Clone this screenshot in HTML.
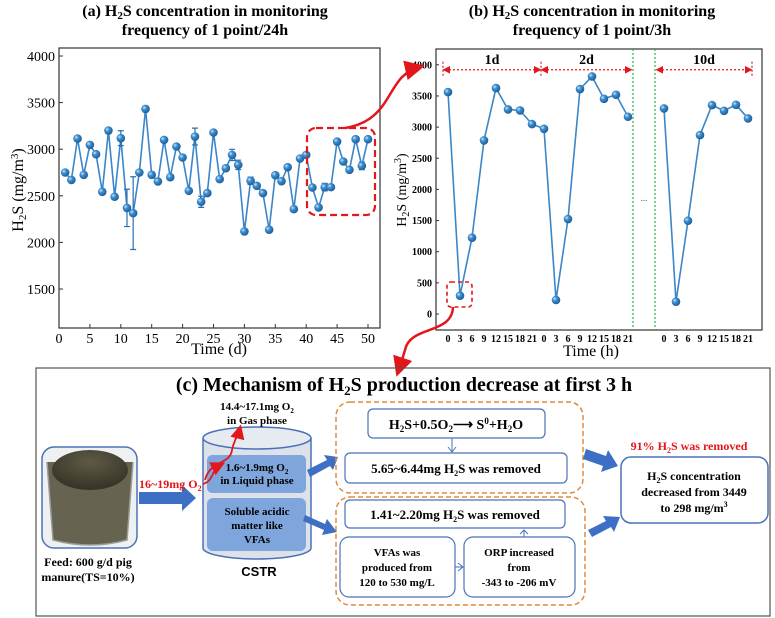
<!DOCTYPE html>
<html><head><meta charset="utf-8">
<style>
html,body{margin:0;padding:0;background:#fff;}
svg{display:block;font-family:"Liberation Serif",serif;}
</style></head>
<body>
<svg id="fig" width="775" height="618" viewBox="0 0 775 618" xmlns="http://www.w3.org/2000/svg">
<defs>
<radialGradient id="ball" cx="0.35" cy="0.35" r="0.7">
<stop offset="0" stop-color="#cfe6fa"/><stop offset="0.35" stop-color="#3d8fd0"/><stop offset="1" stop-color="#1a5a94"/>
</radialGradient>
<marker id="redhead" markerWidth="8" markerHeight="8" refX="6" refY="4" orient="auto"><path d="M0,0 L8,4 L0,8 z" fill="#e3161b"/></marker>
<marker id="dhead" markerWidth="8" markerHeight="8" refX="4" refY="4" orient="auto-start-reverse"><path d="M0,1 L6,4 L0,7 z" fill="#e3161b"/></marker>
<radialGradient id="manure" cx="0.5" cy="0.3" r="0.8"><stop offset="0" stop-color="#5e5a45"/><stop offset="1" stop-color="#2f2d22"/></radialGradient>
</defs>

<!-- titles -->
<g font-weight="bold" font-size="16" text-anchor="middle">
<text x="205" y="16">(a) H<tspan font-size="11" dy="3">2</tspan><tspan dy="-3">S concentration in monitoring</tspan></text>
<text x="205" y="35">frequency of 1 point/24h</text>
</g>
<g font-weight="bold" font-size="16" text-anchor="middle">
<text x="592" y="16">(b) H<tspan font-size="11" dy="3">2</tspan><tspan dy="-3">S concentration in monitoring</tspan></text>
<text x="592" y="35">frequency of 1 point/3h</text>
</g>

<g id="chartA"></g>
<g id="chartB"></g>

<!-- connecting arrows -->
<path d="M345,128 C395,120 385,75 420,67" fill="none" stroke="#e3161b" stroke-width="2.5" marker-end="url(#redhead)"/>
<path d="M453,307 C452,335 410,325 405,350 C402,360 400,366 398,372" fill="none" stroke="#e3161b" stroke-width="2.5" marker-end="url(#redhead)"/>

<!-- panel c -->
<g>
<rect x="36" y="368" width="734" height="248" fill="none" stroke="#555" stroke-width="1.2"/>
<text x="404" y="391" font-size="20" font-weight="bold" text-anchor="middle">(c) Mechanism of H<tspan font-size="13" dy="4">2</tspan><tspan dy="-4">S production decrease at first 3 h</tspan></text>

<g>
<rect x="42" y="447" width="95" height="101" rx="12" fill="#eef0f2" stroke="#4a72b8" stroke-width="1.5"/>
<path d="M47,462 L53,540 Q90,550 127,540 L133,462 Z" fill="#56533f" opacity="0.9"/>
<ellipse cx="90" cy="470" rx="38" ry="20" fill="url(#manure)"/>
<path d="M47,462 L53,540 Q90,550 127,540 L133,462" fill="none" stroke="#9a9c98" stroke-width="1.5"/>
</g>
<text x="88" y="566" font-size="12" font-weight="bold" text-anchor="middle">Feed: 600 g/d pig</text>
<text x="88" y="581" font-size="12" font-weight="bold" text-anchor="middle">manure(TS=10%)</text>

<path d="M139,492 L182,492 L182,485 L196,498 L182,511 L182,504 L139,504 Z" fill="#3d6fc4"/>
<text x="139" y="488" font-size="12" font-weight="bold" fill="#e3161b">16~19mg O<tspan font-size="8" dy="3">2</tspan></text>

<g>
<path d="M203,438 L203,548 A54,11 0 0 0 311,548 L311,438" fill="#dde2ea" stroke="#4a72b8" stroke-width="1.5"/>
<ellipse cx="257" cy="438" rx="54" ry="11" fill="#e6eaf1" stroke="#4a72b8" stroke-width="1.5"/>
<rect x="207" y="455" width="99" height="38" rx="5" fill="#7ea6dc"/>
<rect x="207" y="498" width="99" height="53" rx="6" fill="#7ea6dc"/>
</g>
<text x="257" y="471" font-size="11" font-weight="bold" text-anchor="middle">1.6~1.9mg O<tspan font-size="7" dy="3">2</tspan></text>
<text x="257" y="484" font-size="11" font-weight="bold" text-anchor="middle">in Liquid phase</text>
<text x="257" y="515" font-size="11" font-weight="bold" text-anchor="middle">Soluble acidic</text>
<text x="257" y="529" font-size="11" font-weight="bold" text-anchor="middle">matter like</text>
<text x="257" y="543" font-size="11" font-weight="bold" text-anchor="middle">VFAs</text>
<text x="259" y="576" font-size="13" font-weight="bold" text-anchor="middle" font-family="Liberation Sans, sans-serif">CSTR</text>
<text x="257" y="410" font-size="11" font-weight="bold" text-anchor="middle">14.4~17.1mg O<tspan font-size="7" dy="3">2</tspan></text>
<text x="257" y="424" font-size="11" font-weight="bold" text-anchor="middle">in Gas phase</text>
<path d="M203,484 C215,480 210,470 222,464" fill="none" stroke="#e3161b" stroke-width="1.8" marker-end="url(#redhead)"/>
<path d="M205,480 C210,460 230,465 232,450 C234,440 238,436 240,428" fill="none" stroke="#e3161b" stroke-width="1.8" marker-end="url(#redhead)"/>

<path d="M307,470 L327,460 L324,455 L338,457 L333,470 L330,466 L310,477 Z" fill="#3d6fc4"/>
<path d="M305,515 L325,524 L327,519 L337,532 L322,535 L324,530 L303,521 Z" fill="#3d6fc4"/>

<rect x="336" y="402" width="247" height="91" rx="14" fill="none" stroke="#e08a3c" stroke-width="1.5" stroke-dasharray="5,3"/>
<rect x="368" y="409" width="177" height="29" rx="5" fill="#fff" stroke="#4a72b8" stroke-width="1.2"/>
<text x="456" y="429" font-size="14" font-weight="bold" text-anchor="middle">H<tspan font-size="9" dy="3">2</tspan><tspan dy="-3">S+0.5O</tspan><tspan font-size="9" dy="3">2</tspan><tspan dy="-3">⟶ S</tspan><tspan font-size="9" dy="-5">0</tspan><tspan dy="5">+H</tspan><tspan font-size="9" dy="3">2</tspan><tspan dy="-3">O</tspan></text>
<path d="M452,438 L452,452 M448,447 L452,452 L456,447" stroke="#4a72b8" fill="none" stroke-width="1"/>
<rect x="345" y="453" width="222" height="30" rx="5" fill="#fff" stroke="#4a72b8" stroke-width="1.2"/>
<text x="456" y="473" font-size="13" font-weight="bold" text-anchor="middle">5.65~6.44mg H<tspan font-size="8" dy="3">2</tspan><tspan dy="-3">S was removed</tspan></text>

<rect x="336" y="497" width="249" height="108" rx="14" fill="none" stroke="#e08a3c" stroke-width="1.5" stroke-dasharray="5,3"/>
<rect x="345" y="500" width="220" height="28" rx="5" fill="#fff" stroke="#4a72b8" stroke-width="1.2"/>
<text x="455" y="519" font-size="13" font-weight="bold" text-anchor="middle">1.41~2.20mg H<tspan font-size="8" dy="3">2</tspan><tspan dy="-3">S was removed</tspan></text>
<rect x="340" y="537" width="115" height="60" rx="9" fill="#fff" stroke="#4a72b8" stroke-width="1.2"/>
<text x="397" y="556" font-size="11" font-weight="bold" text-anchor="middle">VFAs was</text>
<text x="397" y="571" font-size="11" font-weight="bold" text-anchor="middle">produced  from</text>
<text x="397" y="586" font-size="11" font-weight="bold" text-anchor="middle">120 to 530 mg/L</text>
<rect x="464" y="537" width="111" height="60" rx="9" fill="#fff" stroke="#4a72b8" stroke-width="1.2"/>
<text x="519" y="556" font-size="11" font-weight="bold" text-anchor="middle">ORP increased</text>
<text x="519" y="571" font-size="11" font-weight="bold" text-anchor="middle">from</text>
<text x="519" y="586" font-size="11" font-weight="bold" text-anchor="middle">-343 to -206 mV</text>
<path d="M455,567 L463,567 M458,563 L463,567 L458,571" stroke="#4a72b8" fill="none"/>
<path d="M524,537 L524,530 M520,534 L524,530 L528,534" stroke="#4a72b8" fill="none"/>

<path d="M586,449 L606,456 L608,450 L618,466 L601,472 L603,466 L583,459 Z" fill="#3d6fc4"/>
<path d="M588,530 L606,521 L603,516 L620,517 L614,532 L611,527 L592,537 Z" fill="#3d6fc4"/>
<text x="689" y="450" font-size="12" font-weight="bold" fill="#e3161b" text-anchor="middle">91% H<tspan font-size="8" dy="3">2</tspan><tspan dy="-3">S was removed</tspan></text>
<rect x="621" y="457" width="147" height="66" rx="10" fill="#fff" stroke="#4a72b8" stroke-width="1.5"/>
<text x="694" y="480" font-size="12" font-weight="bold" text-anchor="middle">H<tspan font-size="8" dy="3">2</tspan><tspan dy="-3">S concentration</tspan></text>
<text x="694" y="496" font-size="12" font-weight="bold" text-anchor="middle">decreased from 3449</text>
<text x="694" y="512" font-size="12" font-weight="bold" text-anchor="middle">to 298 mg/m<tspan font-size="8" dy="-5">3</tspan></text>
</g>
</svg>
<script>
// ---- Chart A data ----
const daysA = [1,2,3,4,5,6,7,8,9,10,11,12,13,14,15,16,17,18,19,20,21,22,23,24,25,26,27,28,29,30,31,32,33,34,35,36,37,38,39,40,41,42,43,44,45,46,47,48,49,50];
const valuesA = [2750,2670,3114,2725,3046,2946,2543,3200,2490,3118,2370,2314,2750,3432,2725,2654,3100,2700,3029,2911,2554,3136,2436,2529,3179,2679,2796,2939,2832,2118,2661,2607,2529,2136,2721,2657,2807,2357,2900,2939,2589,2375,2593,2593,3082,2868,2779,3107,2821,3107];
const errA = [0,0,0,0,0,0,0,0,0,80,200,390,0,30,0,0,0,0,0,0,0,90,60,0,0,0,0,60,50,0,40,0,0,0,0,0,0,30,0,0,0,0,40,0,0,0,0,0,40,0];
const xTicksA = [0,5,10,15,20,25,30,35,40,45,50];
const yTicksA = [1500,2000,2500,3000,3500,4000];
// ---- Chart B data ----
const hoursB = [0,3,6,9,12,15,18,21];
const day1B = [3562,294,1225,2786,3626,3283,3267,3048];
const day2B = [2973,225,1524,3610,3813,3454,3519,3166];
const day10B = [3299,198,1497,2872,3353,3262,3358,3139];
const yTicksB = [0,500,1000,1500,2000,2500,3000,3500,4000];
const groupLabelsB = ['1d','2d','10d'];

const NS='http://www.w3.org/2000/svg';
function mk(tag, attrs, parent, text){const e=document.createElementNS(NS,tag);for(const k in attrs)e.setAttribute(k,attrs[k]);if(text!==undefined)e.textContent=text;parent.appendChild(e);return e;}

// Chart A
(function(){
const g=document.getElementById('chartA');
const L=59,R=380,T=48,B=328;
const xA=v=>59+v*6.18;
const yA=v=>56+(4000-v)*0.0932;
const frame=mk('rect',{x:L,y:T,width:R-L,height:B-T,fill:'none',stroke:'#333','stroke-width':1.2},g);


xTicksA.forEach(t=>{
  mk('line',{x1:xA(t),x2:xA(t),y1:B,y2:B-4,stroke:'#333'},g);
  const tx=mk('text',{x:xA(t),y:B+15,'font-size':14,'text-anchor':'middle'},g,String(t));
  
  
});
yTicksA.forEach(t=>{
  mk('line',{x1:L,x2:L+4,y1:yA(t),y2:yA(t),stroke:'#333'},g);
  const tx=mk('text',{x:L-4,y:yA(t)+5,'font-size':14,'text-anchor':'end'},g,String(t));
  
  
});
const xt=mk('text',{x:219,y:354,'font-size':16,'text-anchor':'middle'},g,'Time (d)');


const yt=mk('text',{x:0,y:0,'font-size':16,'text-anchor':'middle',transform:'translate(23,190) rotate(-90)'},g);


yt.innerHTML='H<tspan font-size="11" dy="3">2</tspan><tspan dy="-3">S (mg/m</tspan><tspan font-size="11" dy="-5">3</tspan><tspan dy="5">)</tspan>';
const pts=daysA.map((d,i)=>xA(d)+','+yA(valuesA[i])).join(' ');
const ln=mk('polyline',{points:pts,fill:'none',stroke:'#3a86c8','stroke-width':1.6},g);


daysA.forEach((d,i)=>{
  if(errA[i]>0){
    const x=xA(d),y1=yA(valuesA[i]+errA[i]),y2=yA(valuesA[i]-errA[i]);
    mk('path',{d:`M${x},${y1}L${x},${y2}M${x-3},${y1}L${x+3},${y1}M${x-3},${y2}L${x+3},${y2}`,stroke:'#2a6fb0','stroke-width':1.2,fill:'none'},g);
  }
  const c=mk('circle',{cx:xA(d),cy:yA(valuesA[i]),r:4.3,fill:'url(#ball)'},g);
  
  
});
const box=mk('rect',{x:307,y:128,width:68,height:87,rx:9,fill:'none',stroke:'#e3161b','stroke-width':2.2,'stroke-dasharray':'7,4'},g);


})();

// Chart B
(function(){
const g=document.getElementById('chartB');
const L=436,R=762,T=49,B=330;
const idxX=i=>448+i*12;
const yB=v=>314-v*0.0623;
const frame=mk('rect',{x:L,y:T,width:R-L,height:B-T,fill:'none',stroke:'#333','stroke-width':1.2},g);


yTicksB.forEach(t=>{
  mk('line',{x1:L,x2:L+3,y1:yB(t),y2:yB(t),stroke:'#333'},g);
  const tx=mk('text',{x:L-4,y:yB(t)+3.5,'font-size':10,'font-weight':'bold','text-anchor':'end'},g,String(t));
  
  
});
const series=[day1B,day2B,day10B];
const offs=[0,8,18];
series.forEach((vals,s)=>{
  hoursB.forEach((h,i)=>{
    const tx=mk('text',{x:idxX(offs[s]+i),y:B+12,'font-size':10,'font-weight':'bold','text-anchor':'middle'},g,String(h));
    
    
  });
});
const seg1=day1B.map((v,i)=>idxX(i)+','+yB(v)).concat(day2B.map((v,i)=>idxX(8+i)+','+yB(v))).join(' ');
const l1=mk('polyline',{points:seg1,fill:'none',stroke:'#3a86c8','stroke-width':1.6},g);


const seg2=day10B.map((v,i)=>idxX(18+i)+','+yB(v)).join(' ');
const l2=mk('polyline',{points:seg2,fill:'none',stroke:'#3a86c8','stroke-width':1.6},g);


series.forEach((vals,s)=>vals.forEach((v,i)=>{
  const c=mk('circle',{cx:idxX(offs[s]+i),cy:yB(v),r:4.3,fill:'url(#ball)'},g);
  
  
}));
[633,655].forEach(x=>{
  const l=mk('line',{x1:x,x2:x,y1:T,y2:B,stroke:'#2bb04a','stroke-width':1.2,'stroke-dasharray':'2,2'},g);
  
  
});
mk('text',{x:644,y:201,'font-size':9,'text-anchor':'middle',fill:'#555'},g,'...');
// period markers
const ay=yB(3920);
[[443,541],[541,632],[656,752]].forEach((p,k)=>{
  const a=mk('line',{x1:p[0]+2,x2:p[1]-2,y1:ay,y2:ay,stroke:'#e3161b','stroke-width':1.3,'stroke-dasharray':'2,2','marker-end':'url(#dhead)','marker-start':'url(#dhead)'},g);
  
  
  const tx=mk('text',{x:(p[0]+p[1])/2,y:ay-6,'font-size':14,'font-weight':'bold','text-anchor':'middle'},g,groupLabelsB[k]);
  
  
});
[443,541,752].forEach(x=>mk('line',{x1:x,x2:x,y1:ay-8,y2:ay+8,stroke:'#e3161b','stroke-width':1.2,'stroke-dasharray':'2,2'},g));
const xt=mk('text',{x:591,y:356,'font-size':16,'text-anchor':'middle'},g,'Time (h)');


const yt=mk('text',{x:0,y:0,'font-size':14,'text-anchor':'middle',transform:'translate(406,190) rotate(-90)'},g);


yt.innerHTML='H<tspan font-size="10" dy="3">2</tspan><tspan dy="-3">S (mg/m</tspan><tspan font-size="10" dy="-5">3</tspan><tspan dy="5">)</tspan>';
const box=mk('rect',{x:447,y:282,width:25,height:25,rx:4,fill:'none',stroke:'#e3161b','stroke-width':1.6,'stroke-dasharray':'4,3'},g);


})();
</script>
</body></html>
